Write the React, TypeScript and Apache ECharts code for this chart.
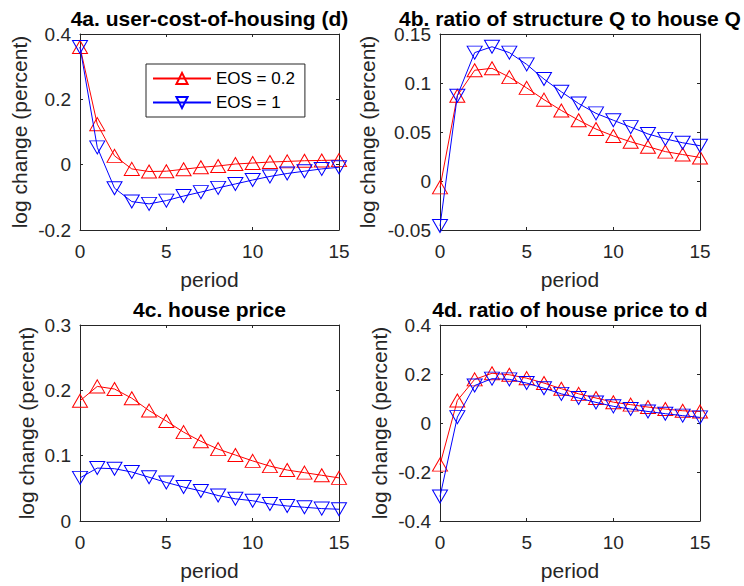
import React, { useEffect, useRef } from "react";
import * as echarts from "echarts";

const periods = [0, 1, 2, 3, 4, 5, 6, 7, 8, 9, 10, 11, 12, 13, 14, 15];
const seriesNames = ["EOS = 0.2", "EOS = 1"];

const userCostLow = [0.36, 0.124, 0.027, -0.013, -0.021, -0.02, -0.014, -0.008, -0.004, 0.002, 0.005, 0.008, 0.01, 0.012, 0.013, 0.014];
const userCostHigh = [0.36, 0.053, -0.072, -0.113, -0.12, -0.11, -0.096, -0.084, -0.071, -0.059, -0.047, -0.036, -0.027, -0.02, -0.013, -0.008];

const structRatioLow = [-0.0065, 0.087, 0.113, 0.115, 0.106, 0.095, 0.083, 0.072, 0.062, 0.053, 0.046, 0.04, 0.035, 0.03, 0.027, 0.024];
const structRatioHigh = [-0.046, 0.087, 0.131, 0.137, 0.131, 0.119, 0.104, 0.091, 0.079, 0.069, 0.062, 0.055, 0.048, 0.043, 0.039, 0.036];

const housePriceLow = [0.184, 0.206, 0.202, 0.188, 0.169, 0.153, 0.136, 0.122, 0.11, 0.101, 0.092, 0.084, 0.078, 0.074, 0.07, 0.066];
const housePriceHigh = [0.066, 0.081, 0.08, 0.075, 0.067, 0.059, 0.052, 0.046, 0.039, 0.034, 0.031, 0.026, 0.023, 0.021, 0.019, 0.018];

const priceRatioLow = [-0.17, 0.092, 0.178, 0.203, 0.197, 0.183, 0.163, 0.14, 0.119, 0.102, 0.085, 0.075, 0.065, 0.057, 0.05, 0.047];
const priceRatioHigh = [-0.3, 0.024, 0.153, 0.181, 0.178, 0.163, 0.142, 0.119, 0.102, 0.084, 0.068, 0.057, 0.047, 0.038, 0.03, 0.023];

const titles = [
  "4a. user-cost-of-housing (d)",
  "4b. ratio of structure Q to house Q",
  "4c. house price",
  "4d. ratio of house price to d",
];
const yRanges = [
  { min: -0.2, max: 0.4, interval: 0.2 },
  { min: -0.05, max: 0.15, interval: 0.05 },
  { min: 0, max: 0.3, interval: 0.1 },
  { min: -0.4, max: 0.4, interval: 0.2 },
];
const xRange = { min: 0, max: 15, interval: 5 };
const xLabel = "period";
const yLabel = "log change (percent)";

const FONT = "Liberation Sans";
const AX = "#262626";

const grids = [
  { left: 80, top: 34, width: 259, height: 196 },
  { left: 440, top: 34, width: 260, height: 196 },
  { left: 80, top: 325, width: 259, height: 196 },
  { left: 440, top: 325, width: 260, height: 196 },
];
const yLabelX = [19, 367, 26, 379];
const titleY = [18, 18, 309, 309];

export default function App() {
  const ref = useRef<HTMLDivElement>(null);
  useEffect(() => {
    if (!ref.current) return;
    const chart = echarts.init(ref.current, null, { renderer: "svg" });
    const panels = [
      [userCostLow, userCostHigh],
      [structRatioLow, structRatioHigh],
      [housePriceLow, housePriceHigh],
      [priceRatioLow, priceRatioHigh],
    ];
    const xAxis: any[] = [];
    const yAxis: any[] = [];
    const series: any[] = [];
    const baseAxis = {
      axisLine: { show: true, onZero: false, lineStyle: { color: AX, width: 1 } },
      axisTick: { show: true, inside: true, length: 3, lineStyle: { color: AX, width: 1 } },
      splitLine: { show: false },
    };
    grids.forEach((g, i) => {
      xAxis.push({
        type: "value",
        gridIndex: i,
        position: "bottom",
        ...xRange,
        ...baseAxis,
        axisLabel: { color: AX, fontSize: 19, fontFamily: FONT, margin: 12 },
        name: xLabel,
        nameLocation: "middle",
        nameGap: 39,
        nameTextStyle: { color: AX, fontSize: 21, fontFamily: FONT },
      });
      xAxis.push({
        type: "value",
        gridIndex: i,
        position: "top",
        ...xRange,
        ...baseAxis,
        axisLabel: { show: false },
      });
      yAxis.push({
        type: "value",
        gridIndex: i,
        position: "left",
        ...yRanges[i],
        ...baseAxis,
        axisLabel: { color: AX, fontSize: 19, fontFamily: FONT, margin: 9 },
      });
      yAxis.push({
        type: "value",
        gridIndex: i,
        position: "right",
        ...yRanges[i],
        ...baseAxis,
        axisLabel: { show: false },
      });
      const colors = ["#ff0000", "#0000ff"];
      panels[i].forEach((vals, k) => {
        series.push({
          type: "line",
          name: seriesNames[k],
          xAxisIndex: i * 2,
          yAxisIndex: i * 2,
          data: periods.map((p, j) => [p, vals[j]]),
          symbol: "triangle",
          symbolSize: [15, 13],
          symbolRotate: k === 1 ? 180 : 0,
          showAllSymbol: true,
          lineStyle: { color: colors[k], width: 1 },
          itemStyle: { color: "transparent", borderColor: colors[k], borderWidth: 1 },
          emphasis: { disabled: true },
          z: 2 + k,
        });
      });
    });
    const titleGraphics = titles.map((t, i) => ({
      type: "text",
      x: grids[i].left + grids[i].width / 2,
      y: titleY[i],
      style: {
        text: t,
        fill: "#000000",
        font: `bold 21px "${FONT}"`,
        textAlign: "center",
        textVerticalAlign: "middle",
      },
    }));
    const yLabelGraphics = grids.map((g, i) => ({
      type: "text",
      x: yLabelX[i],
      y: g.top + g.height / 2,
      rotation: Math.PI / 2,
      style: {
        text: yLabel,
        fill: AX,
        font: `21px "${FONT}"`,
        textAlign: "center",
        textVerticalAlign: "middle",
      },
    }));
    chart.setOption({
      animation: false,
      backgroundColor: "#ffffff",
      grid: grids.map((g) => ({ ...g, containLabel: false, outerBoundsMode: "none" })),
      xAxis,
      yAxis,
      series,
      legend: {
        data: seriesNames,
        left: 146,
        top: 64,
        orient: "vertical",
        itemWidth: 58,
        itemHeight: 14,
        itemGap: 7,
        padding: [6, 10, 6, 6],
        borderColor: AX,
        borderWidth: 1,
        backgroundColor: "#ffffff",
        selectedMode: false,
        textStyle: { color: "#000000", fontSize: 17, fontFamily: FONT, lineHeight: 17 },
      },
      graphic: [...titleGraphics, ...yLabelGraphics],
    });
    return () => chart.dispose();
  }, []);
  return (
    <div
      ref={ref}
      style={{ position: "fixed", left: 0, top: 0, width: 744, height: 586 }}
    />
  );
}
